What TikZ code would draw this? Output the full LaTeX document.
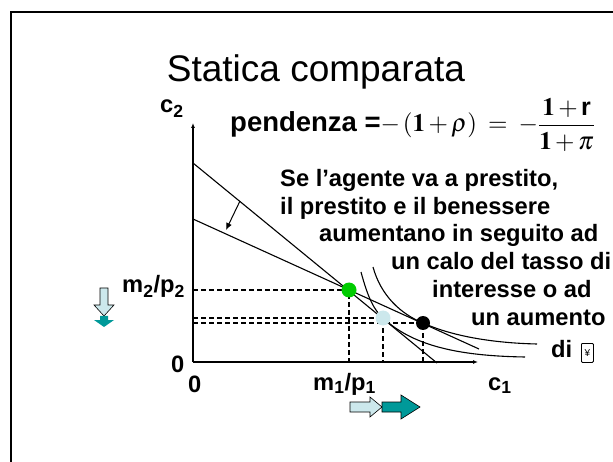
\documentclass[tikz,border=0pt]{standalone}
\usepackage{mathptmx}
\usepackage[no-math]{fontspec}
\setmainfont{Liberation Sans}
\usetikzlibrary{arrows.meta}
\definecolor{verde}{RGB}{0,204,0}
\definecolor{celeste}{RGB}{204,232,236}
\definecolor{ottanio}{RGB}{0,153,153}

\begin{document}
\begin{tikzpicture}[x=1pt,y=-1pt,
    testo/.style={font=\fontsize{23.7}{28}\selectfont\bfseries, inner sep=0pt, anchor=base west},
    tratt/.style={dash pattern=on 5pt off 3pt, line width=1.1pt},
    linea/.style={line width=1.1pt}]
        \useasboundingbox (0,0) rectangle (613,462);
        % Cornice
        \draw[line width=2.2pt] (11,462) -- (11,12) -- (613,12);
        % Titolo
        \node[font=\fontsize{37}{40}\selectfont, anchor=base, inner sep=0pt] (titolo) at (316,82) {Statica comparata};
        
        % Assi
        \coordinate (O) at (193,362);
        \coordinate (ytop) at (193,123);
        \coordinate (xtop) at (478,362);
        \draw[linea, -{Latex[length=5pt,width=4pt]}] (O) -- (ytop);
        \draw[linea, -{Latex[length=5pt,width=4pt]}] (O) -- (xtop);
        
        % Punti
        \coordinate (A) at (193,163);
        \coordinate (B) at (193,219);
        \coordinate (Aend) at (437,363);
        \coordinate (Bend) at (479,349);
        \coordinate (E) at (349,290);
        \coordinate (L) at (383,318);
        \coordinate (N) at (423,323);
        
        % Linee tratteggiate
        \draw[tratt] (O |- E) -- (E) -- (E |- O);
        \draw[tratt] (O |- L) -- (L) -- (L |- O);
        \draw[tratt] (O |- N) -- (N) -- (N |- O);
        
        % Rette di bilancio
        \draw[linea] (A) -- (Aend);
        \draw[linea] (B) -- (Bend);
        \coordinate (rotA) at (240,201);
        \coordinate (rotB) at (226,230);
        \draw[line width=1pt, -{Latex[length=7pt,width=6pt]}] (rotA) -- (rotB);
        
        % Curve di indifferenza
        \draw[linea] (361,272) .. controls (368,298) and (374,310) .. (L)
            .. controls (415,348) and (465,356) .. (525,357);
        \draw[linea] (373,267) .. controls (381,296) and (401,314) .. (N)
            .. controls (452,336) and (492,343) .. (537,344);
        
        % Punti di equilibrio
        \fill[verde] (E) circle (7.5);
        \fill[celeste] (L) circle (7.5);
        \fill[black] (N) circle (7);
        
        % Etichette
        \node[testo] (c2) at (160,113) {c\textsubscript{2}};
        \node[testo] (m2p2) at (122,293) {m\textsubscript{2}/p\textsubscript{2}};
        \node[testo] (zeroy) at (171,372) {0};
        \node[testo] (zerox) at (188,392) {0};
        \node[testo] (m1p1) at (313,390) {m\textsubscript{1}/p\textsubscript{1}};
        \node[testo] (c1) at (488,390) {c\textsubscript{1}};
        
        % Pendenza
        \node[anchor=base west, inner sep=0pt] (pend) at (230,132)
            {\fontsize{27.5}{30}\selectfont\textbf{pendenza =}\fontsize{25}{30}\selectfont$-\,(\mathbf{1}+\rho)\;=\;-\displaystyle\frac{\mathbf{1}+\textbf{r}}{\mathbf{1}+\pi}$};
        
        % Commento
        \node[testo] (riga1) at (280,187) {Se l’agente va a prestito,};
        \node[testo] (riga2) at (280,215) {il prestito e il benessere};
        \node[testo] (riga3) at (319,242) {aumentano in seguito ad};
        \node[testo] (riga4) at (391,270) {un calo del tasso di};
        \node[testo] (riga5) at (432,298) {interesse o ad};
        \node[testo] (riga6) at (471,326) {un aumento};
        \node[testo] (riga7) at (551,357) {di};
        \node[draw, line width=0.8pt, rounded corners=1pt, inner sep=0pt, minimum width=12pt, minimum height=19pt, anchor=north west] (tofu) at (581,343) {\fontsize{10}{10}\selectfont ¥};
        
        % Frecce
        \draw[fill=celeste, line width=0.6pt] (100,288) -- (108,288) -- (108,305) -- (114,305) -- (104,316) -- (94,305) -- (100,305) -- cycle;
        \fill[ottanio] (100,316) -- (108,316) -- (108,320) -- (114,320) -- (104,327) -- (94,320) -- (100,320) -- cycle;
        \draw[fill=celeste, line width=0.6pt] (350,402) -- (370,402) -- (370,397) -- (382,407) -- (370,417) -- (370,412) -- (350,412) -- cycle;
        \draw[fill=ottanio, line width=0.6pt] (382,402) -- (401,402) -- (401,395) -- (420,407) -- (401,419) -- (401,412) -- (382,412) -- cycle;
\end{tikzpicture}
\end{document}
